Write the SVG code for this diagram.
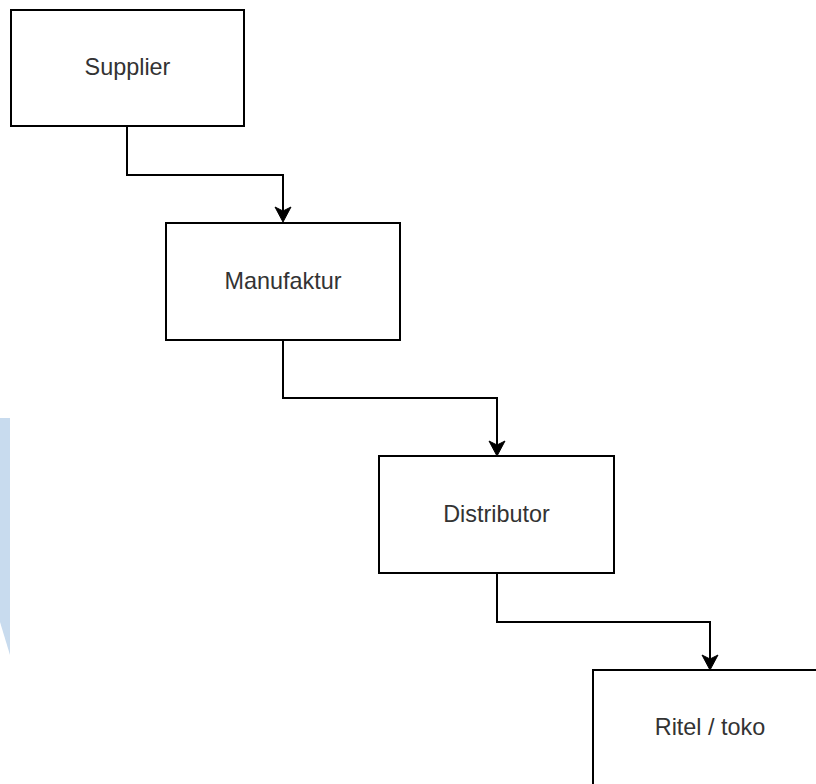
<svg xmlns="http://www.w3.org/2000/svg" width="816" height="784" viewBox="0 0 816 784">
  <defs>
    <style>
      .box { fill: #ffffff; stroke: #000000; stroke-width: 2; }
      .lbl { font-family: "Liberation Sans", Arial, Helvetica, sans-serif; font-size: 23.4px; fill: #333333; text-anchor: middle; }
      .edge { fill: none; stroke: #000000; stroke-width: 2; }
    </style>
    <marker id="arrow" viewBox="-16 -9 17 18" markerWidth="17" markerHeight="18" refX="-11" refY="0" orient="auto" markerUnits="userSpaceOnUse">
      <path d="M 0 0 L -15 -8 L -11 0 L -15 8 Z" fill="#000000" stroke="#000000" stroke-width="1"/>
    </marker>
  </defs>
  <rect x="0" y="0" width="816" height="784" fill="#ffffff"/>
  <polygon points="0,418 10,418 10,655 0,622" fill="#c8dbee"/>
  <g id="connectors">
    <path class="edge" d="M 127 126 L 127 175 L 283 175 L 283 211" marker-end="url(#arrow)"/>
    <path class="edge" d="M 283 340 L 283 398 L 497 398 L 497 445" marker-end="url(#arrow)"/>
    <path class="edge" d="M 497 573 L 497 622 L 710 622 L 710 659" marker-end="url(#arrow)"/>
  </g>
  <g id="supplier">
    <rect class="box" x="11" y="10" width="233" height="116"/>
    <text class="lbl" x="127.5" y="75">Supplier</text>
  </g>
  <g id="manufaktur">
    <rect class="box" x="166" y="223" width="234" height="117"/>
    <text class="lbl" x="283" y="289">Manufaktur</text>
  </g>
  <g id="distributor">
    <rect class="box" x="379" y="456" width="235" height="117"/>
    <text class="lbl" x="496.5" y="522">Distributor</text>
  </g>
  <g id="ritel">
    <rect class="box" x="593" y="670" width="234" height="117"/>
    <text class="lbl" x="710" y="735">Ritel / toko</text>
  </g>
</svg>
